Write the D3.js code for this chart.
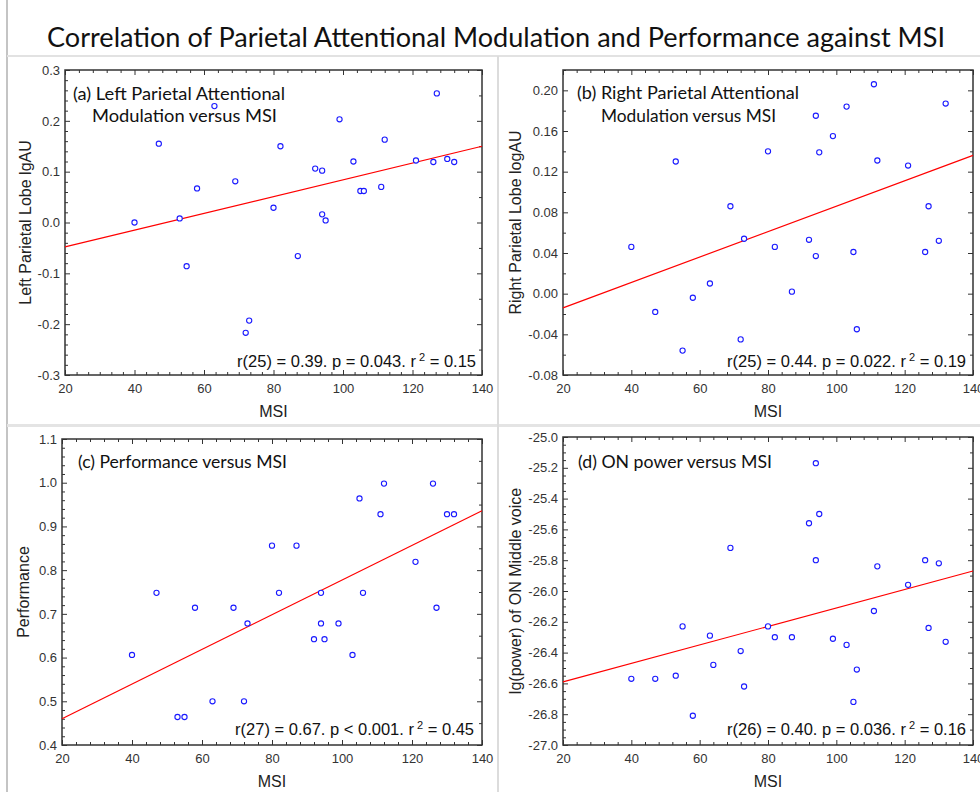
<!DOCTYPE html>
<meta charset="utf-8">
<style>
  body { margin: 0; background: #fff; }
  svg { display: block; }
  text { font-family: "Liberation Sans", Arial, sans-serif; }
  .axis text { font-family: "Liberation Sans", Arial, sans-serif; font-size: 13px; fill: #333; }
  .axis line { stroke: #333; }
</style>
<svg width="980" height="792"></svg>
<script src="https://d3js.org/d3.v7.min.js"></script>
<script>
// ---- data ----
// (a) left parietal
var msiA = [40, 47, 53, 58, 63, 69, 55, 73, 72, 87, 80, 82, 92, 94, 94, 95, 99, 103, 105, 106, 111, 112, 121, 126, 127, 130, 132];
var lobeA = [0.000, 0.155, 0.008, 0.067, 0.229, 0.081, -0.086, -0.193, -0.217, -0.066, 0.029, 0.150, 0.106, 0.102, 0.016, 0.004, 0.203, 0.120, 0.062, 0.062, 0.070, 0.163, 0.122, 0.119, 0.254, 0.125, 0.119];
var fitA = [-0.048, 0.150]; // fitted value at MSI 20 and 140

// (b) right parietal
var msiB = [40, 53, 69, 47, 55, 58, 63, 72, 73, 80, 82, 92, 94, 95, 94, 99, 103, 105, 87, 106, 111, 112, 121, 127, 126, 130, 132];
var lobeB = [0.046, 0.130, 0.086, -0.018, -0.056, -0.004, 0.010, -0.045, 0.054, 0.140, 0.046, 0.053, 0.175, 0.139, 0.037, 0.155, 0.184, 0.041, 0.002, -0.035, 0.206, 0.131, 0.126, 0.086, 0.041, 0.052, 0.187];
var fitB = [-0.014, 0.136];

// (c) performance
var msiC = [47, 40, 53, 55, 58, 63, 69, 72, 73, 92, 94, 95, 99, 103, 127, 80, 82, 87, 94, 105, 106, 111, 112, 121, 126, 130, 132];
var perfC = [0.748, 0.606, 0.464, 0.464, 0.714, 0.500, 0.714, 0.500, 0.678, 0.642, 0.678, 0.642, 0.678, 0.606, 0.714, 0.856, 0.748, 0.856, 0.748, 0.964, 0.748, 0.928, 0.998, 0.819, 0.998, 0.928, 0.928];
var fitC = [0.460, 0.936];

// (d) ON power
var msiD = [40, 47, 53, 55, 58, 63, 64, 69, 72, 73, 80, 82, 87, 92, 94, 94, 95, 99, 103, 105, 106, 111, 112, 121, 126, 127, 130, 132];
var powD = [-26.57, -26.57, -26.55, -26.23, -26.81, -26.29, -26.48, -25.72, -26.39, -26.62, -26.23, -26.30, -26.30, -25.56, -25.17, -25.80, -25.50, -26.31, -26.35, -26.72, -26.51, -26.13, -25.84, -25.96, -25.80, -26.24, -25.82, -26.33];
var fitD = [-26.59, -25.87];

// tick labels
var msiTicks = [20, 40, 60, 80, 100, 120, 140];
var ticksA = [-0.3, -0.2, -0.1, 0.0, 0.1, 0.2, 0.3];
var ticksB = [-0.08, -0.04, 0.00, 0.04, 0.08, 0.12, 0.16, 0.20];
var ticksC = [0.4, 0.5, 0.6, 0.7, 0.8, 0.9, 1.0, 1.1];
var ticksD = [-27.0, -26.8, -26.6, -26.4, -26.2, -26.0, -25.8, -25.6, -25.4, -25.2, -25.0];

var svg = d3.select('svg');

// grey frame of the figure
var frame = svg.append('g').attr('fill', 'none');
frame.append('line').attr('x1', 7).attr('x2', 7).attr('y1', 0).attr('y2', 792).attr('stroke-width', 2).attr('stroke', '#c4c4c4');
frame.append('line').attr('x1', 7).attr('x2', 980).attr('y1', 56).attr('y2', 56).attr('stroke-width', 2).attr('stroke', '#e2e2e2');
frame.append('line').attr('x1', 7).attr('x2', 980).attr('y1', 425.5).attr('y2', 425.5).attr('stroke-width', 3).attr('stroke', '#e4e4e4');
frame.append('line').attr('x1', 498).attr('x2', 498).attr('y1', 56).attr('y2', 792).attr('stroke-width', 2).attr('stroke', '#dcdcdc');

svg.append('text')
  .attr('x', 47).attr('y', 47)
  .attr('textLength', 898).attr('lengthAdjust', 'spacingAndGlyphs')
  .style('font-family', 'Lato, "Open Sans", sans-serif')
  .style('font-size', '27px').style('fill', '#111')
  .text('Correlation of Parietal Attentional Modulation and Performance against MSI');

var panels = [
  { box: [65, 70, 482, 375], xs: msiA, ys: lobeA, fit: fitA, yDom: [-0.3, 0.3], yTicks: ticksA, dec: 1,
    minY: 0.02, minYR: 0.05, minX: 4, minXB: 20 / 6,
    ylab: 'Left Parietal Lobe lgAU', ylabX: 25,
    title: [['(a) Left Parietal  Attentional', 73, 100, 212], ['Modulation versus MSI', 92, 122, 185]],
    stat: ['r(25) = 0.39. p = 0.043. r', ' = 0.15'], statX: 476, statY: 367 },
  { box: [563, 70, 973, 375], xs: msiB, ys: lobeB, fit: fitB, yDom: [-0.08, 0.22], yTicks: ticksB, dec: 2,
    minY: 0.02, minYR: 0.02, minX: 4, minXB: 4,
    ylab: 'Right Parietal Lobe logAU', ylabX: 515,
    title: [['(b) Right Parietal  Attentional', 577, 99, 222], ['Modulation versus MSI', 601, 122, 175]],
    stat: ['r(25) = 0.44. p = 0.022. r', ' = 0.19'], statX: 966, statY: 367 },
  { box: [62, 439, 482, 745], xs: msiC, ys: perfC, fit: fitC, yDom: [0.4, 1.1], yTicks: ticksC, dec: 1,
    minY: 0.02, minYR: 0.05, minX: 4, minXB: 4,
    ylab: 'Performance', ylabX: 23,
    title: [['(c) Performance versus MSI', 78, 468, 209]],
    stat: ['r(27) = 0.67. p < 0.001. r', ' = 0.45'], statX: 474, statY: 735 },
  { box: [563, 437, 973, 745], xs: msiD, ys: powD, fit: fitD, yDom: [-27, -25], yTicks: ticksD, dec: 1,
    minY: 0.05, minYR: 0.1, minX: 4, minXB: 4,
    ylab: 'lg(power) of ON Middle voice', ylabX: 515,
    title: [['(d) ON power versus MSI', 578, 468, 194]],
    stat: ['r(26) = 0.40. p = 0.036. r', ' = 0.16'], statX: 966, statY: 735 }
];

function minors(dom, step, majors) {
  var out = [];
  var n = Math.round((dom[1] - dom[0]) / step);
  for (var i = 0; i <= n; i++) {
    var v = dom[0] + i * step;
    if (!majors.some(function (m) { return Math.abs(m - v) < step / 10; })) out.push(v);
  }
  return out;
}

panels.forEach(function (p) {
  var L = p.box[0], T = p.box[1], R = p.box[2], B = p.box[3];
  var x = d3.scaleLinear().domain([20, 140]).range([L, R]);
  var y = d3.scaleLinear().domain(p.yDom).range([B, T]);
  var g = svg.append('g');

  // major ticks with labels
  g.append('g').attr('class', 'axis').attr('transform', 'translate(0,' + B + ')')
    .call(d3.axisBottom(x).tickValues(msiTicks).tickSizeInner(-5).tickSizeOuter(0).tickPadding(9).tickFormat(d3.format('d')));
  g.append('g').attr('class', 'axis').attr('transform', 'translate(' + L + ',0)')
    .call(d3.axisLeft(y).tickValues(p.yTicks).tickSizeInner(-5).tickSizeOuter(0).tickPadding(5)
      .tickFormat(function (d) { return d.toFixed(p.dec); }));
  g.append('g').attr('class', 'axis').attr('transform', 'translate(0,' + T + ')')
    .call(d3.axisTop(x).tickValues(msiTicks).tickSizeInner(-5).tickSizeOuter(0).tickFormat(''));
  g.append('g').attr('class', 'axis').attr('transform', 'translate(' + R + ',0)')
    .call(d3.axisRight(y).tickValues(p.yTicks).tickSizeInner(-5).tickSizeOuter(0).tickFormat(''));

  // minor ticks
  g.append('g').attr('class', 'axis').attr('transform', 'translate(0,' + B + ')')
    .call(d3.axisBottom(x).tickValues(minors([20, 140], p.minXB, msiTicks)).tickSizeInner(-3).tickSizeOuter(0).tickFormat(''));
  g.append('g').attr('class', 'axis').attr('transform', 'translate(0,' + T + ')')
    .call(d3.axisTop(x).tickValues(minors([20, 140], p.minX, msiTicks)).tickSizeInner(-3).tickSizeOuter(0).tickFormat(''));
  g.append('g').attr('class', 'axis').attr('transform', 'translate(' + L + ',0)')
    .call(d3.axisLeft(y).tickValues(minors(p.yDom, p.minY, p.yTicks)).tickSizeInner(-3).tickSizeOuter(0).tickFormat(''));
  g.append('g').attr('class', 'axis').attr('transform', 'translate(' + R + ',0)')
    .call(d3.axisRight(y).tickValues(minors(p.yDom, p.minYR, p.yTicks)).tickSizeInner(-3).tickSizeOuter(0).tickFormat(''));
  g.selectAll('.axis .domain').remove();

  // plot frame
  g.append('rect').attr('x', L).attr('y', T).attr('width', R - L).attr('height', B - T)
    .attr('fill', 'none').attr('stroke', '#333').attr('stroke-width', 1.5);

  // regression line
  g.append('line')
    .attr('x1', x(20)).attr('y1', y(p.fit[0]))
    .attr('x2', x(140)).attr('y2', y(p.fit[1]))
    .attr('stroke', '#ff0000').attr('stroke-width', 1.2);

  // points
  g.selectAll('.pt').data(p.xs).enter().append('circle')
    .attr('class', 'pt')
    .attr('cx', function (d) { return x(d); })
    .attr('cy', function (d, i) { return y(p.ys[i]); })
    .attr('r', 2.6)
    .attr('fill', 'white').attr('stroke', '#1a1aff').attr('stroke-width', 1.1);

  // axis labels
  g.append('text').attr('x', (L + R) / 2).attr('y', B + 42).attr('text-anchor', 'middle')
    .style('font-size', '16px').style('fill', '#222').text('MSI');
  g.append('text').attr('transform', 'translate(' + p.ylabX + ',' + (T + B) / 2 + ') rotate(-90)')
    .attr('text-anchor', 'middle').attr('dy', '0.35em')
    .style('font-size', '16px').style('fill', '#222').text(p.ylab);

  // panel caption
  p.title.forEach(function (t) {
    g.append('text').attr('x', t[1]).attr('y', t[2])
      .attr('textLength', t[3]).attr('lengthAdjust', 'spacingAndGlyphs')
      .style('font-family', 'Lato, "Open Sans", sans-serif')
      .style('font-size', '18px').style('fill', '#111').text(t[0]);
  });

  // statistics
  var st = g.append('text').attr('x', p.statX).attr('y', p.statY).attr('text-anchor', 'end')
    .style('font-size', '16.5px').style('fill', '#111');
  st.append('tspan').text(p.stat[0]);
  st.append('tspan').attr('dy', -6).attr('dx', 3).style('font-size', '11px').text('2');
  st.append('tspan').attr('dy', 6).text(p.stat[1]);
});
</script>
